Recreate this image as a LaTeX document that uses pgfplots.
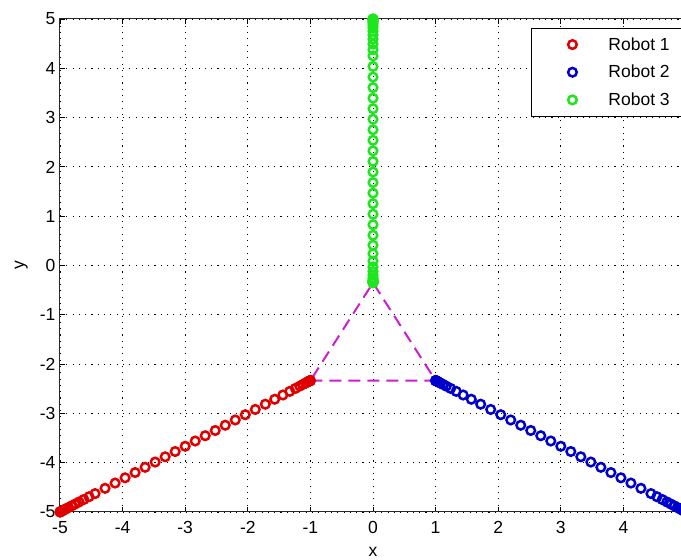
\documentclass[border=0pt]{standalone}
\usepackage{fontspec}
\setmainfont{Liberation Sans}
\usepackage{pgfplots}
\pgfplotsset{compat=1.18}
\definecolor{rob1}{RGB}{225,0,0}
\definecolor{rob2}{RGB}{0,0,205}
\definecolor{rob3}{RGB}{30,230,30}
\definecolor{tri}{RGB}{205,30,205}
\definecolor{axgray}{RGB}{40,40,40}

\begin{document}
\begin{tikzpicture}
\begin{axis}[
  scale only axis,
  width=626pt, height=493pt,
  xmin=-5, xmax=5, ymin=-5, ymax=5,
  xtick={-5,-4,-3,-2,-1,0,1,2,3,4,5},
  xticklabels={-5,-4,-3,-2,-1,0,1,2,3,4,{}},
  ytick={-5,-4,-3,-2,-1,0,1,2,3,4,5},
  yticklabels={-5,-4,-3,-2,-1,0,1,2,3,4,5},
  tick label style={font=\fontsize{17.5}{21}\selectfont},
  xticklabel style={yshift=-6pt},
  yticklabel style={xshift=-1pt},
  tick align=inside, major tick length=5pt,
  tick style={black, line width=0.8pt},
  axis line style={axgray, line width=1pt},
  grid=major,
  grid style={black, line width=0.9pt, dash pattern=on 1.1pt off 5.2pt},
  xlabel={x}, ylabel={y},
  label style={font=\fontsize{17.5}{21}\selectfont},
  xlabel style={at={(axis description cs:0.5,-0.0893)}, anchor=base},
  ylabel style={at={(axis description cs:-0.0575,0.5)}, anchor=base},
  clip=false,
  legend style={at={(axis description cs:0.7524,0.9817)}, anchor=north west,
    draw=black, line width=0.9pt, fill=white, inner xsep=0pt, inner ysep=6pt,
    row sep=7.5pt, font=\fontsize{17.5}{21}\selectfont, nodes={inner sep=3pt}},
  legend cell align=left,
  legend image code/.code={\path[draw=none] (0pt,0pt) -- (74pt,0pt);
    \draw[#1, only marks] plot coordinates {(41pt,0pt)};},
  every axis plot/.append style={only marks, mark=o, mark size=4.3pt,
    mark options={line width=2.5pt, fill=none}},
]
\coordinate (O) at (rel axis cs:0,0);
\addplot[color=rob1] coordinates {
(-5,-5) (-4.998,-4.9987) (-4.993,-4.9953) (-4.985,-4.99) (-4.972,-4.9813)
(-4.954,-4.9693) (-4.93,-4.9533) (-4.9,-4.9333) (-4.862,-4.908) (-4.815,-4.8767)
(-4.76,-4.84) (-4.695,-4.7967) (-4.62,-4.7467) (-4.535,-4.69) (-4.44,-4.6267)
(-4.28,-4.52) (-4.12,-4.4133) (-3.96,-4.3067) (-3.8,-4.2) (-3.64,-4.0933)
(-3.48,-3.9867) (-3.32,-3.88) (-3.16,-3.7733) (-3.0,-3.6667) (-2.84,-3.56)
(-2.68,-3.4533) (-2.52,-3.3467) (-2.36,-3.24) (-2.2,-3.1333) (-2.04,-3.0267)
(-1.88,-2.92) (-1.72,-2.8133) (-1.57,-2.7133) (-1.44,-2.6267) (-1.33,-2.5533)
(-1.24,-2.4933) (-1.17,-2.4467) (-1.12,-2.4133) (-1.08,-2.3867) (-1.055,-2.37)
(-1.037,-2.358) (-1.024,-2.3493) (-1.015,-2.3433) (-1.009,-2.3393) (-1.005,-2.3367)
(-1.003,-2.3353) (-1.0015,-2.3343) (-1,-2.3333)
};
\addlegendentry{Robot 1\hspace*{16pt}}
\addplot[color=rob2] coordinates {
(5,-5) (4.998,-4.9987) (4.993,-4.9953) (4.985,-4.99) (4.972,-4.9813)
(4.954,-4.9693) (4.93,-4.9533) (4.9,-4.9333) (4.862,-4.908) (4.815,-4.8767)
(4.76,-4.84) (4.695,-4.7967) (4.62,-4.7467) (4.535,-4.69) (4.44,-4.6267)
(4.28,-4.52) (4.12,-4.4133) (3.96,-4.3067) (3.8,-4.2) (3.64,-4.0933)
(3.48,-3.9867) (3.32,-3.88) (3.16,-3.7733) (3.0,-3.6667) (2.84,-3.56)
(2.68,-3.4533) (2.52,-3.3467) (2.36,-3.24) (2.2,-3.1333) (2.04,-3.0267)
(1.88,-2.92) (1.72,-2.8133) (1.57,-2.7133) (1.44,-2.6267) (1.33,-2.5533)
(1.24,-2.4933) (1.17,-2.4467) (1.12,-2.4133) (1.08,-2.3867) (1.055,-2.37)
(1.037,-2.358) (1.024,-2.3493) (1.015,-2.3433) (1.009,-2.3393) (1.005,-2.3367)
(1.003,-2.3353) (1.0015,-2.3343) (1,-2.3333)
};
\addlegendentry{Robot 2\hspace*{16pt}}
\addplot[color=rob3] coordinates {
(0,5) (0,4.9973) (0,4.9906) (0,4.9799) (0,4.9626)
(0,4.9385) (0,4.9064) (0,4.8663) (0,4.8154) (0,4.7526)
(0,4.679) (0,4.5921) (0,4.4918) (0,4.3781) (0,4.251)
(0,4.037) (0,3.823) (0,3.609) (0,3.395) (0,3.181)
(0,2.967) (0,2.753) (0,2.539) (0,2.325) (0,2.111)
(0,1.897) (0,1.683) (0,1.469) (0,1.255) (0,1.041)
(0,0.827) (0,0.613) (0,0.4124) (0,0.2385) (0,0.0914)
(0,-0.029) (0,-0.1226) (0,-0.1894) (0,-0.246) (0,-0.2764)
(0,-0.3005) (0,-0.3179) (0,-0.3299) (0,-0.3379) (0,-0.3433)
(0,-0.3459) (0,-0.348) (0,-0.35)
};
\addlegendentry{Robot 3\hspace*{16pt}}
\addplot[color=tri, no marks, sharp plot, line width=2pt,
  dash pattern=on 12pt off 7pt, forget plot] coordinates {
(-1,-2.3333) (1,-2.3333) (0,-0.35) (-1,-2.3333)
};
\end{axis}
\pgfresetboundingbox
\path[use as bounding box] (O) ++(-60pt,-48pt) rectangle ++(681pt,560pt);
\end{tikzpicture}
\end{document}
